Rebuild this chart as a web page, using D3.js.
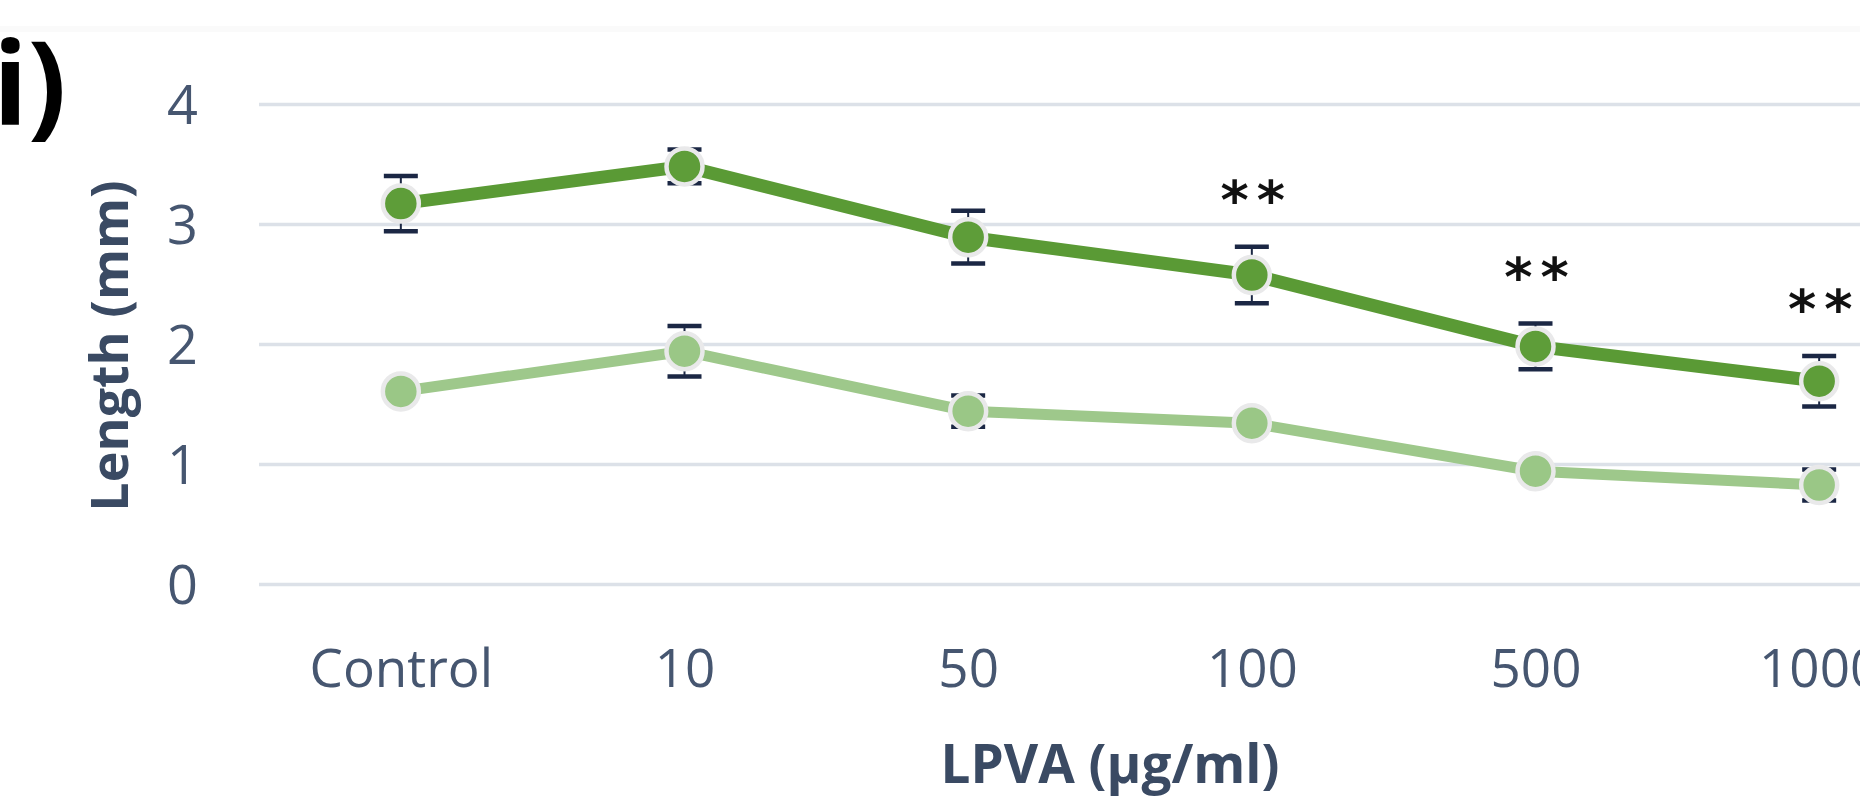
<!DOCTYPE html>
<html>
<head>
<meta charset="utf-8">
<script src="https://cdn.jsdelivr.net/npm/d3@7"></script>
<style>
  html, body { margin: 0; padding: 0; background: #ffffff; overflow: hidden; }
  svg { display: block; }
</style>
</head>
<body>
<svg id="chart" width="1860" height="797"></svg>
<script>
// Concentrations of LPVA tested
const categories = ["Control", "10", "50", "100", "500", "1000"];

// Mean lengths (mm) for the two measured series
const darkMeans  = [3.17, 3.48, 2.89, 2.575, 1.98, 1.69];
const darkErrors = [0.23, 0.14, 0.22, 0.235, 0.19, 0.21];

const lightMeans  = [1.605, 1.94, 1.44, 1.34, 0.94, 0.825];
const lightErrors = [0.05, 0.21, 0.13, 0.06, 0.06, 0.13];

// Significance marks above the upper series
const sigMarks = ["", "", "", "**", "**", "**"];

const yTicks = [0, 1, 2, 3, 4];

const svg = d3.select("#chart");
const W = 1860, H = 797;

const font = "'Open Sans', 'Noto Sans', sans-serif";
const tickColor = "#465670";
const titleColor = "#3a4a63";

svg.append("rect").attr("width", W).attr("height", H).attr("fill", "#ffffff");
// faint frame edge along the top
svg.append("rect").attr("x", 0).attr("y", 26).attr("width", W).attr("height", 6).attr("fill", "#fafafa");

// plot area runs past the right edge of the figure
const plotLeft = 259, plotRight = 1961;
const x = d3.scalePoint().domain(categories).range([plotLeft, plotRight]).padding(0.5);
const y = d3.scaleLinear().domain([0, 4]).range([584, 104]);

// horizontal gridlines
const yAxis = d3.axisLeft(y).tickValues(yTicks).tickSize(-(plotRight - plotLeft)).tickPadding(60).tickFormat(d3.format("d"));
const gy = svg.append("g").attr("transform", `translate(${plotLeft},0)`).call(yAxis);
gy.select(".domain").remove();
gy.selectAll(".tick line").attr("stroke", "#dce1e8").attr("stroke-width", 3.5);
gy.selectAll(".tick text")
  .attr("x", 198 - plotLeft)
  .attr("fill", tickColor)
  .style("font-family", font)
  .style("font-size", "54px")
  .attr("text-anchor", "end")
  .attr("dy", "0.36em");

// category labels
const xAxis = d3.axisBottom(x).tickSize(0).tickPadding(0);
const gx = svg.append("g").call(xAxis);
gx.select(".domain").remove();
gx.selectAll(".tick text")
  .attr("y", 687)
  .attr("dy", 0)
  .attr("fill", tickColor)
  .style("font-family", font)
  .style("font-size", "53px")
  .attr("text-anchor", "middle");

// axis titles
svg.append("text")
  .attr("transform", `translate(128,346) rotate(-90)`)
  .attr("text-anchor", "middle")
  .attr("fill", titleColor)
  .style("font-family", font)
  .style("font-weight", "700")
  .style("font-size", "52px")
  .text("Length (mm)");

svg.append("text")
  .attr("x", (plotLeft + plotRight) / 2)
  .attr("y", 783)
  .attr("text-anchor", "middle")
  .attr("fill", titleColor)
  .style("font-family", font)
  .style("font-weight", "700")
  .style("font-size", "53px")
  .text("LPVA (µg/ml)");

// panel letter
svg.append("text")
  .attr("x", -7)
  .attr("y", 124)
  .attr("fill", "#000000")
  .style("font-family", font)
  .style("font-weight", "700")
  .style("font-size", "114px")
  .text("i)");

const series = [
  { means: lightMeans, errors: lightErrors, line: "#9ec88b", fill: "#9ac786", width: 11 },
  { means: darkMeans,  errors: darkErrors,  line: "#5a9a35", fill: "#5e9d39", width: 13 }
];

const line = d3.line().x((d, i) => x(categories[i])).y(d => y(d));

series.forEach(s => {
  const g = svg.append("g");
  g.append("path")
    .datum(s.means)
    .attr("d", line)
    .attr("fill", "none")
    .attr("stroke", s.line)
    .attr("stroke-width", s.width)
    .attr("stroke-linejoin", "round");

  // error bars
  const eb = g.append("g").selectAll("g").data(s.means).join("g");
  eb.append("line")
    .attr("x1", (d, i) => x(categories[i])).attr("x2", (d, i) => x(categories[i]))
    .attr("y1", (d, i) => y(d + s.errors[i])).attr("y2", (d, i) => y(d - s.errors[i]))
    .attr("stroke", "#1b2744").attr("stroke-width", 2);
  [1, -1].forEach(sign => {
    eb.append("line")
      .attr("x1", (d, i) => x(categories[i]) - 17).attr("x2", (d, i) => x(categories[i]) + 17)
      .attr("y1", (d, i) => y(d + sign * s.errors[i])).attr("y2", (d, i) => y(d + sign * s.errors[i]))
      .attr("stroke", "#1b2744").attr("stroke-width", 4.5);
  });

  // markers
  g.append("g").selectAll("circle").data(s.means).join("circle")
    .attr("cx", (d, i) => x(categories[i]))
    .attr("cy", d => y(d))
    .attr("r", 18)
    .attr("fill", s.fill)
    .attr("stroke", "#e9e9ea")
    .attr("stroke-width", 4.5);
});

// significance asterisks above the upper error bar
svg.append("g").selectAll("text")
  .data(sigMarks.map((m, i) => ({ m, i })).filter(d => d.m))
  .join("text")
  .attr("x", d => x(categories[d.i]) + 5)
  .attr("y", d => y(darkMeans[d.i] + darkErrors[d.i]) - 56 + 28)
  .attr("text-anchor", "middle")
  .attr("fill", "#111111")
  .style("font-family", "'DejaVu Sans', sans-serif")
  .style("font-weight", "700")
  .style("font-size", "54px")
  .style("letter-spacing", "8px")
  .text(d => d.m);
</script>
</body>
</html>
